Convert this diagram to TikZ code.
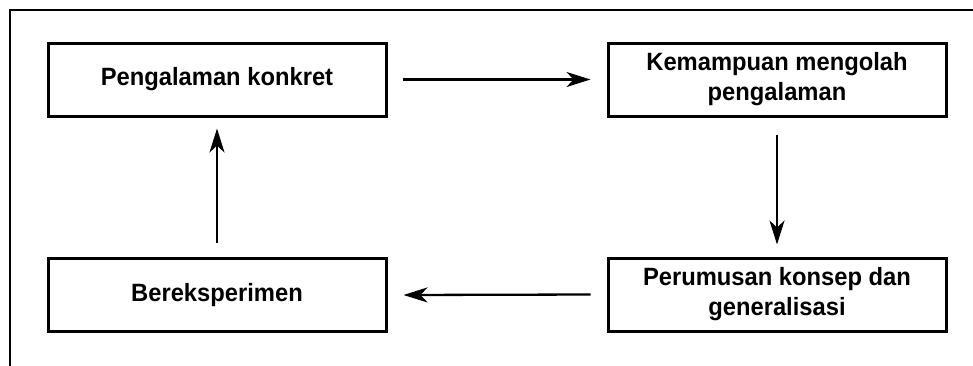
\documentclass[tikz,border=0pt]{standalone}
\usepackage{fontspec}
\setmainfont[FakeStretch=0.95]{Liberation Sans}
\usetikzlibrary{arrows.meta}
\begin{document}
\begin{tikzpicture}[x=1pt,y=-1pt,
  stagebox/.style={draw=black,line width=3pt,minimum width=338pt,minimum height=73pt,
    inner sep=0pt,align=center,font=\bfseries\fontsize{25}{30}\selectfont},
  flow/.style={line width=2.3pt,-{Stealth[length=24pt,width=15pt,inset=7pt]}},
  frame/.style={line width=2.5pt}]
\useasboundingbox (0,0) rectangle (973,365);
\fill[white] (0,0) rectangle (973,365);
\draw[frame] (10,380) -- (10,10) -- (990,10);
\node[stagebox] (b1) at (217,79.5) {Pengalaman konkret};
\node[stagebox] (b2) at (777,79.5) {Kemampuan mengolah\\pengalaman};
\node[stagebox] (b3) at (217,295) {Bereksperimen};
\node[stagebox] (b4) at (777,294.5) {Perumusan konsep dan\\generalisasi};
\draw[flow] ([xshift=15pt]b1.east) -- ([xshift=-16pt]b2.west);
\draw[flow] ([yshift=-17pt]b2.south) -- ([yshift=12pt]b4.north);
\draw[flow] ([xshift=-16pt]b4.west) -- ([xshift=16pt]b3.east);
\draw[flow] ([yshift=14pt]b3.north) -- ([yshift=-11pt]b1.south);
\end{tikzpicture}
\end{document}
